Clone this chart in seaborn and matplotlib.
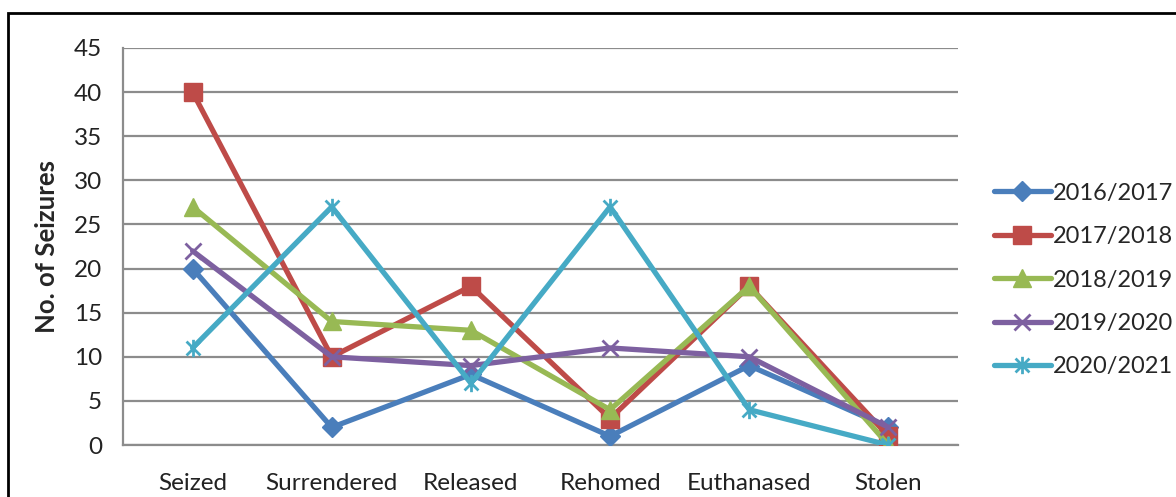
import numpy as np
import pandas as pd
import matplotlib
matplotlib.use("Agg")
import matplotlib.pyplot as plt
from matplotlib.path import Path
from matplotlib.patches import Rectangle
from matplotlib.lines import Line2D
import seaborn as sns

# Outcomes of seized animals per financial year
categories = ["Seized", "Surrendered", "Released", "Rehomed", "Euthanased", "Stolen"]
seasons = ["2016/2017", "2017/2018", "2018/2019", "2019/2020", "2020/2021"]
v_2016_2017 = [20, 2, 8, 1, 9, 2]
v_2017_2018 = [40, 10, 18, 3, 18, 1]
v_2018_2019 = [27, 14, 13, 4, 18, 0]
v_2019_2020 = [22, 10, 9, 11, 10, 2]
v_2020_2021 = [11, 27, 7, 27, 4, 0]
y_ticks = [0, 5, 10, 15, 20, 25, 30, 35, 40, 45]

series = [v_2016_2017, v_2017_2018, v_2018_2019, v_2019_2020, v_2020_2021]
df = pd.DataFrame({
    "pos": np.tile(np.arange(len(categories)), len(seasons)),
    "value": np.concatenate(series),
    "season": np.repeat(seasons, len(categories)),
})

colors = ["#4A7EBB", "#BE4B48", "#98B954", "#7D60A0", "#46AAC5"]

# asterisk marker: an "x" crossed by a vertical stroke
star_path = Path(
    [(-1, -1), (1, 1), (-1, 1), (1, -1), (0, -1.25), (0, 1.25)],
    [Path.MOVETO, Path.LINETO, Path.MOVETO, Path.LINETO, Path.MOVETO, Path.LINETO],
)
marker_list = ["D", "s", "^", "x", star_path]
msizes = [10, 13, 13, 12, 12.5]
medges = [1.0, 1.0, 1.0, 2.0, 2.0]

sns.set_style("white")
plt.rcParams["font.family"] = ["Lato", "DejaVu Sans"]

fig = plt.figure(figsize=(11.76, 4.97), dpi=100)
ax = fig.add_axes([123 / 1176, 1 - 445 / 497, (958 - 123) / 1176, (445 - 48) / 497])

for s, c, mk, ms, mew in zip(seasons, colors, marker_list, msizes, medges):
    sub = df[df["season"] == s]
    sns.lineplot(data=sub, x="pos", y="value", color=c, marker=mk,
                 markersize=ms, markeredgecolor=c, markerfacecolor=c,
                 markeredgewidth=mew, linewidth=3.8, solid_joinstyle="round",
                 solid_capstyle="round", ax=ax, zorder=3)

ax.set_xlim(-0.5, len(categories) - 0.5)
ax.set_ylim(0, 45)
ax.set_xticks(range(len(categories)))
ax.set_xticklabels(categories)
ax.set_yticks(y_ticks)
ax.tick_params(axis="both", length=0, labelsize=17.5)
ax.tick_params(axis="y", pad=15)
ax.tick_params(axis="x", pad=20)
for lab in ax.get_xticklabels() + ax.get_yticklabels():
    lab.set_color("#222222")

ax.grid(axis="y", color="#8C8C8C", linewidth=1.6)
ax.set_axisbelow(True)
for side in ("top", "right"):
    ax.spines[side].set_visible(False)
for side in ("left", "bottom"):
    ax.spines[side].set_color("#8C8C8C")
    ax.spines[side].set_linewidth(1.6)

ax.set_xlabel("")
ax.set_ylabel("No. of Seizures", fontsize=18.5, fontweight="bold", labelpad=11)

handles = [
    Line2D([], [], color=c, linewidth=3.8, marker=mk, markersize=ms,
           markeredgecolor=c, markerfacecolor=c, markeredgewidth=mew,
           solid_capstyle="round")
    for c, mk, ms, mew in zip(colors, marker_list, msizes, medges)
]
fig.legend(handles, seasons, loc="center left",
           bbox_to_anchor=(994 / 1176, 1 - 280 / 497), frameon=False,
           fontsize=17, handlelength=2.4, handletextpad=0.08,
           labelspacing=0.95, borderpad=0, borderaxespad=0)

# black frame around the chart
fig.patches.append(Rectangle((8 / 1176, -0.1), 1.2, 1 - 13 / 497 + 0.1,
                             transform=fig.transFigure, fill=False,
                             edgecolor="black", linewidth=2.0))

fig.savefig("out.png", dpi=100, facecolor="white")
